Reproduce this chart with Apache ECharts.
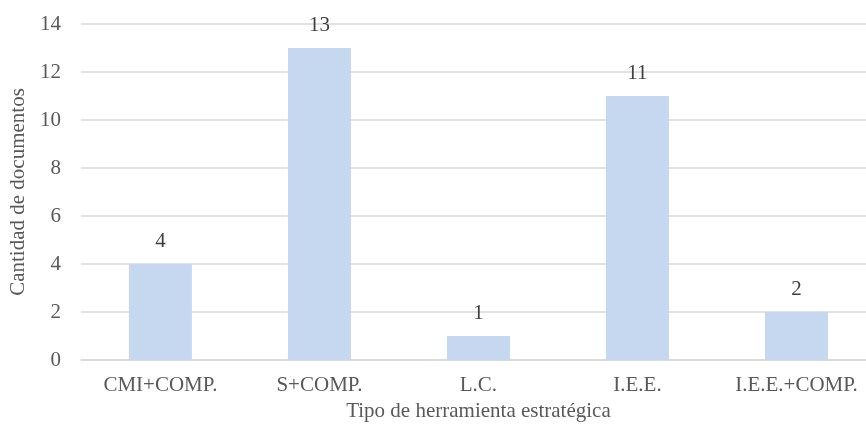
<!DOCTYPE html>
<html>
<head>
<meta charset="utf-8">
<script src="https://cdn.jsdelivr.net/npm/echarts@6/dist/echarts.min.js"></script>
<style>
  html, body { margin: 0; padding: 0; background: #fff; overflow: hidden; }
  /* the plot runs a little past the right edge of the view */
  #chart { width: 880px; height: 428px; }
</style>
</head>
<body>
<div id="chart"></div>
<script>
// Document counts per strategic tool type
const categories = ['CMI+COMP.', 'S+COMP.', 'L.C.', 'I.E.E.', 'I.E.E.+COMP.'];
const documentCounts = [4, 13, 1, 11, 2];
const yAxisTitle = 'Cantidad de documentos';
const xAxisTitle = 'Tipo de herramienta estratégica';

const serif = '"Liberation Serif", "Times New Roman", serif';
const chart = echarts.init(document.getElementById('chart'), null, { renderer: 'canvas' });

chart.setOption({
  animation: false,
  backgroundColor: '#ffffff',
  grid: { left: 78, top: 24, width: 798, height: 336, containLabel: false },
  xAxis: {
    type: 'category',
    data: categories,
    name: xAxisTitle,
    nameLocation: 'middle',
    nameGap: 40,
    nameTextStyle: { fontFamily: serif, fontSize: 21, color: '#595959' },
    axisLine: { show: true, lineStyle: { color: '#d9d9d9', width: 1.5 } },
    axisTick: { show: false },
    axisLabel: { fontFamily: serif, fontSize: 21, color: '#595959', margin: 15, interval: 0 }
  },
  yAxis: {
    type: 'value',
    min: 0,
    max: 14,
    interval: 2,
    name: yAxisTitle,
    nameLocation: 'middle',
    nameGap: 50,
    nameTextStyle: { fontFamily: serif, fontSize: 21, color: '#595959' },
    axisLine: { show: false },
    axisTick: { show: false },
    axisLabel: { fontFamily: serif, fontSize: 21, color: '#595959', margin: 20 },
    splitLine: { lineStyle: { color: '#d9d9d9', width: 1.5 } }
  },
  series: [{
    type: 'bar',
    data: documentCounts,
    barWidth: 63,
    itemStyle: { color: '#c6d8f0' },
    label: {
      show: true,
      position: 'top',
      distance: 12,
      fontFamily: serif,
      fontSize: 21,
      color: '#404040'
    }
  }]
});
</script>
</body>
</html>
